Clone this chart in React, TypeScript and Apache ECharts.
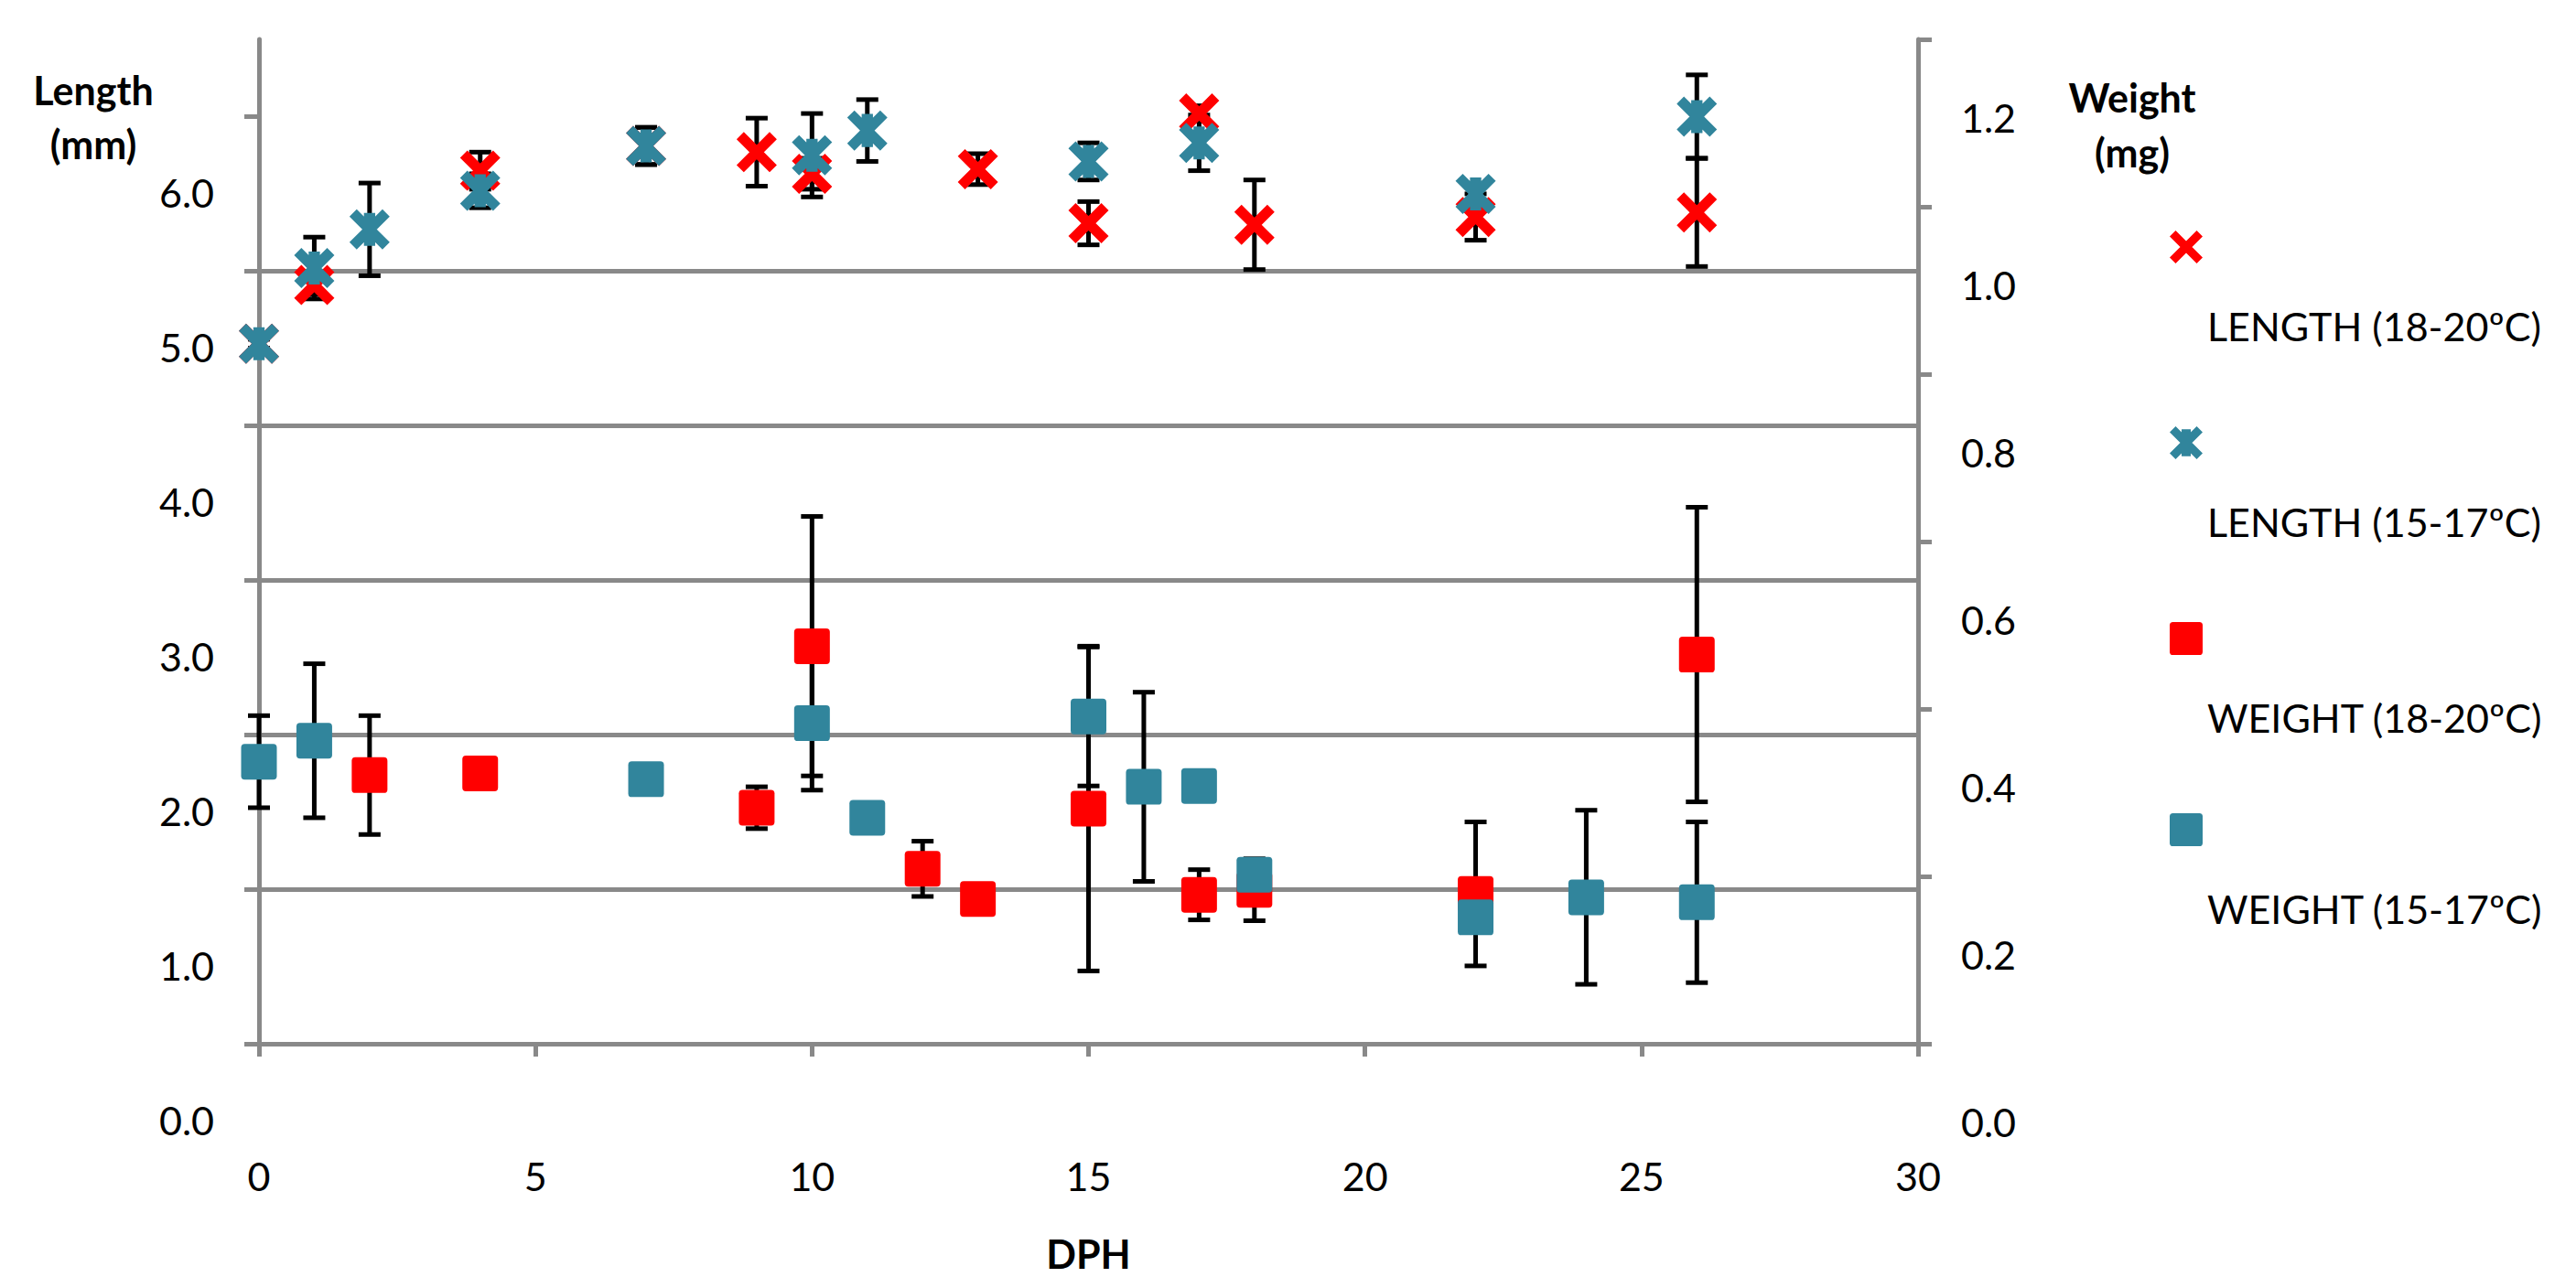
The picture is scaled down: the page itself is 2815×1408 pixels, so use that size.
import React, { useEffect, useRef } from "react";
import * as echarts from "echarts";

// ---------- data ----------
// x axis (days post hatch)
const DPH_MIN = 0;
const DPH_MAX = 30;
const DPH_STEP = 5;

// Left axis (Length, mm): gridline/tick positions and their labels
const LEN_TICKS = [0.5, 1.5, 2.5, 3.5, 4.5, 5.5, 6.5];
const LEN_LABELS = ["0.0", "1.0", "2.0", "3.0", "4.0", "5.0", "6.0"];
const LEN_MIN = 0.5;
const LEN_MAX = 7.0;
const LEN_STEP = 1;

// Right axis (Weight, mg)
const WT_TICKS = [0.1, 0.3, 0.5, 0.7, 0.9, 1.1, 1.3];
const WT_LABELS = ["0.0", "0.2", "0.4", "0.6", "0.8", "1.0", "1.2"];
const WT_MIN = 0.1;
const WT_MAX = 1.3;
const WT_STEP = 0.2;

const SERIES_NAMES = [
  "LENGTH (18-20ºC)",
  "LENGTH (15-17ºC)",
  "WEIGHT (18-20ºC)",
  "WEIGHT (15-17ºC)",
];

// Length 18-20 ºC
const LEN_WARM_DPH = [0, 1, 4, 7, 9, 10, 13, 15, 17, 18, 22, 26];
const LEN_WARM_MEAN = [5.03, 5.41, 6.15, 6.31, 6.27, 6.13, 6.16, 5.81, 6.52, 5.8, 5.85, 5.88];
const LEN_WARM_SD = [0.03, 0.06, 0.12, 0.12, 0.22, 0.1, 0.1, 0.14, 0.05, 0.29, 0.15, 0.35];

// Length 15-17 ºC
const LEN_COLD_DPH = [0, 1, 2, 4, 7, 10, 11, 15, 17, 22, 26];
const LEN_COLD_MEAN = [5.03, 5.52, 5.77, 6.02, 6.31, 6.25, 6.41, 6.21, 6.33, 6.0, 6.5];
const LEN_COLD_SD = [0.03, 0.2, 0.3, 0.11, 0.12, 0.27, 0.2, 0.12, 0.18, 0.05, 0.27];

// Weight 18-20 ºC
const WT_WARM_DPH = [2, 4, 9, 10, 12, 13, 15, 17, 18, 22, 26];
const WT_WARM_MEAN = [0.421, 0.423, 0.382, 0.575, 0.309, 0.273, 0.381, 0.278, 0.284, 0.279, 0.565];
const WT_WARM_SD = [0.071, 0.006, 0.025, 0.155, 0.033, 0.009, 0.194, 0.03, 0.037, 0.086, 0.176];

// Weight 15-17 ºC
const WT_COLD_DPH = [0, 1, 7, 10, 11, 15, 16, 17, 18, 22, 24, 26];
const WT_COLD_MEAN = [0.437, 0.462, 0.416, 0.483, 0.37, 0.491, 0.407, 0.408, 0.302, 0.251, 0.275, 0.269];
const WT_COLD_SD = [0.055, 0.092, 0, 0.08, 0, 0.083, 0.113, 0, 0, 0.018, 0.104, 0.096];

// ---------- styles ----------
const FONT = "Lato, 'Open Sans', 'DejaVu Sans', sans-serif";
const RED = "#FF0000";
const TEAL = "#31859C";
const AXIS = "#898989";

const X_PATH = "path://M0,18L18,0L100,82L82,100ZM82,0L100,18L18,100L0,82Z";
const STAR_PATH =
  "path://M0,18L18,0L100,82L82,100ZM82,0L100,18L18,100L0,82ZM36,9L64,9L64,91L36,91Z";
const SQUARE_PATH =
  "path://M4,0L36,0Q40,0 40,4L40,36Q40,40 36,40L4,40Q0,40 0,36L0,4Q0,0 4,0Z";

const pairs = (xs: number[], ys: number[]) => xs.map((x, i) => [x, ys[i]]);
const bars = (xs: number[], ys: number[], sd: number[]) =>
  xs.map((x, i) => [x, ys[i] - sd[i], ys[i] + sd[i]]).filter((_, i) => sd[i] > 0);

const errorItem = (params: any, api: any) => {
  const x = api.value(0);
  const lo = api.value(1);
  const hi = api.value(2);
  const top = api.coord([x, hi]);
  const bot = api.coord([x, lo]);
  const half = 12;
  const style = { stroke: "#000", lineWidth: 5 };
  return {
    type: "group",
    children: [
      { type: "line", shape: { x1: top[0], y1: top[1], x2: bot[0], y2: bot[1] }, style },
      { type: "line", shape: { x1: top[0] - half, y1: top[1], x2: top[0] + half, y2: top[1] }, style },
      { type: "line", shape: { x1: bot[0] - half, y1: bot[1], x2: bot[0] + half, y2: bot[1] }, style },
    ],
  };
};

const labelFor = (ticks: number[], labels: string[]) => (v: number) => {
  const i = ticks.findIndex((t) => Math.abs(t - v) < 1e-6);
  return i >= 0 ? labels[i] : "";
};

const LEGEND_X = 2389;
const LEGEND_Y = [270, 484, 698, 907];
const LEGEND_TEXT_LINE = 172;

export default function App() {
  const ref = useRef<HTMLDivElement>(null);

  useEffect(() => {
    if (!ref.current) return;
    const chart = echarts.init(ref.current, undefined, { renderer: "svg" });

    const axisLineStyle = { color: AXIS, width: 5 };

    const option: any = {
      animation: false,
      backgroundColor: "#ffffff",
      textStyle: { fontFamily: FONT },
      grid: {
        left: 283,
        right: 719,
        top: 43,
        bottom: 267,
        containLabel: false,
        outerBoundsMode: "none",
      },
      xAxis: {
        type: "value",
        min: DPH_MIN,
        max: DPH_MAX,
        interval: DPH_STEP,
        name: "DPH",
        nameLocation: "middle",
        nameGap: 208,
        nameMoveOverlap: false,
        nameTextStyle: { fontSize: 43, fontWeight: "bold", color: "#000", fontFamily: FONT },
        axisLine: { show: true, onZero: false, lineStyle: axisLineStyle },
        axisTick: { show: true, inside: false, length: 14, lineStyle: axisLineStyle },
        axisLabel: { fontSize: 43, color: "#000", margin: 123, fontFamily: FONT },
        splitLine: { show: false },
      },
      yAxis: [
        {
          type: "value",
          position: "left",
          min: LEN_MIN,
          max: LEN_MAX,
          interval: LEN_STEP,
          axisLine: { show: true, onZero: false, lineStyle: axisLineStyle },
          axisTick: { show: true, inside: false, length: 16, lineStyle: axisLineStyle, customValues: LEN_TICKS },
          axisLabel: {
            customValues: LEN_TICKS,
            formatter: labelFor(LEN_TICKS, LEN_LABELS),
            showMinLabel: true,
            showMaxLabel: true,
            hideOverlap: false,
            // label sits half a step below its tick
            verticalAlign: "top",
            lineHeight: 166,
            fontSize: 43,
            color: "#000",
            margin: 49,
            fontFamily: FONT,
          },
          splitLine: { show: true, showMaxLine: false, lineStyle: axisLineStyle },
        },
        {
          type: "value",
          position: "right",
          min: WT_MIN,
          max: WT_MAX,
          interval: WT_STEP,
          axisLine: { show: true, onZero: false, lineStyle: axisLineStyle },
          axisTick: { show: true, inside: false, length: 15, lineStyle: axisLineStyle },
          axisLabel: {
            formatter: labelFor(WT_TICKS, WT_LABELS),
            showMinLabel: true,
            showMaxLabel: true,
            hideOverlap: false,
            verticalAlign: "top",
            lineHeight: 170,
            fontSize: 43,
            color: "#000",
            margin: 47,
            fontFamily: FONT,
          },
          splitLine: { show: false },
        },
      ],
      legend: SERIES_NAMES.map((name, i) => ({
        data: [name],
        orient: "vertical",
        left: LEGEND_X - 18 - 5,
        // the two-line label block reaches above the icon; compensate so the icon sits at LEGEND_Y
        top: LEGEND_Y[i] - 18 - 5 - (LEGEND_TEXT_LINE - 18),
        itemWidth: 36,
        itemHeight: 36,
        itemGap: 0,
        selectedMode: false,
        formatter: (n: string) => "\n" + n,
        textStyle: { fontSize: 43, lineHeight: LEGEND_TEXT_LINE, color: "#000", fontFamily: FONT },
      })),
      graphic: [
        {
          type: "text",
          x: 102,
          y: 128,
          style: {
            text: "Length\n(mm)",
            font: `bold 43px ${FONT}`,
            fill: "#000",
            align: "center",
            verticalAlign: "middle",
            textAlign: "center",
            textVerticalAlign: "middle",
            lineHeight: 59,
          },
        },
        {
          type: "text",
          x: 2330,
          y: 136,
          style: {
            text: "Weight\n(mg)",
            font: `bold 43px ${FONT}`,
            fill: "#000",
            align: "center",
            verticalAlign: "middle",
            textAlign: "center",
            textVerticalAlign: "middle",
            lineHeight: 60,
          },
        },
      ],
      series: [
        {
          type: "custom",
          name: "err-len-warm",
          yAxisIndex: 0,
          renderItem: errorItem,
          data: bars(LEN_WARM_DPH, LEN_WARM_MEAN, LEN_WARM_SD),
          z: 2,
          silent: true,
        },
        {
          type: "custom",
          name: "err-len-cold",
          yAxisIndex: 0,
          renderItem: errorItem,
          data: bars(LEN_COLD_DPH, LEN_COLD_MEAN, LEN_COLD_SD),
          z: 2,
          silent: true,
        },
        {
          type: "custom",
          name: "err-wt-warm",
          yAxisIndex: 1,
          renderItem: errorItem,
          data: bars(WT_WARM_DPH, WT_WARM_MEAN, WT_WARM_SD),
          z: 2,
          silent: true,
        },
        {
          type: "custom",
          name: "err-wt-cold",
          yAxisIndex: 1,
          renderItem: errorItem,
          data: bars(WT_COLD_DPH, WT_COLD_MEAN, WT_COLD_SD),
          z: 2,
          silent: true,
        },
        {
          type: "scatter",
          name: SERIES_NAMES[0],
          yAxisIndex: 0,
          symbol: X_PATH,
          symbolSize: 44,
          itemStyle: { color: RED, opacity: 1 },
          data: pairs(LEN_WARM_DPH, LEN_WARM_MEAN),
          z: 3,
        },
        {
          type: "scatter",
          name: SERIES_NAMES[1],
          yAxisIndex: 0,
          symbol: STAR_PATH,
          symbolSize: 44,
          itemStyle: { color: TEAL, opacity: 1 },
          data: pairs(LEN_COLD_DPH, LEN_COLD_MEAN),
          z: 4,
        },
        {
          type: "scatter",
          name: SERIES_NAMES[2],
          yAxisIndex: 1,
          symbol: SQUARE_PATH,
          symbolSize: 39,
          itemStyle: { color: RED, opacity: 1 },
          data: pairs(WT_WARM_DPH, WT_WARM_MEAN),
          z: 3,
        },
        {
          type: "scatter",
          name: SERIES_NAMES[3],
          yAxisIndex: 1,
          symbol: SQUARE_PATH,
          symbolSize: 39,
          itemStyle: { color: TEAL, opacity: 1 },
          data: pairs(WT_COLD_DPH, WT_COLD_MEAN),
          z: 4,
        },
      ],
    };

    chart.setOption(option);
    return () => chart.dispose();
  }, []);

  return (
    <div
      ref={ref}
      style={{ position: "fixed", left: 0, top: 0, width: 2815, height: 1408, background: "#fff" }}
    />
  );
}
